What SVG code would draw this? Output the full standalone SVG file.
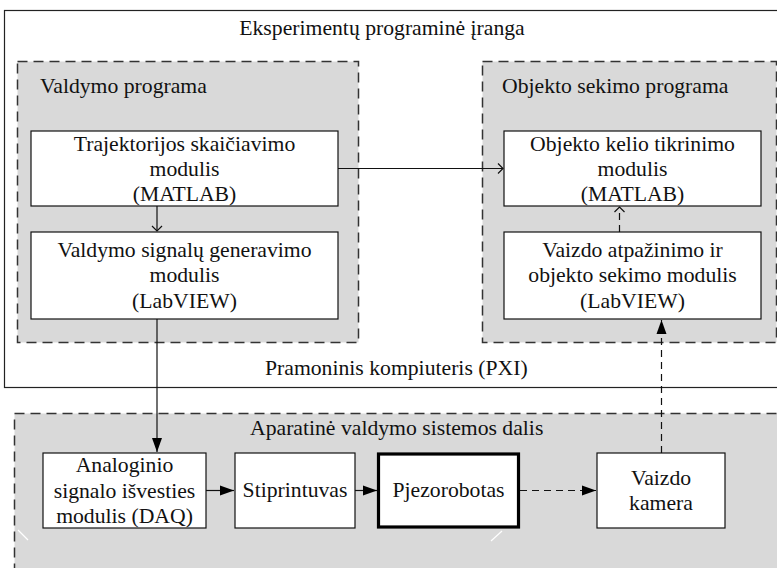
<svg xmlns="http://www.w3.org/2000/svg" width="777" height="568" viewBox="0 0 777 568">
  <defs>
    <style>
      text { font-family: 'Liberation Serif', 'Times New Roman', 'DejaVu Serif', serif; font-size: 21.7px; fill: #111; }
      .mid { text-anchor: middle; }
      .frame { fill: #fff; stroke: #222; stroke-width: 1.2; }
      .group { fill: #d9d9d9; stroke: #333; stroke-width: 1.5; stroke-dasharray: 10 6; }
      .box { fill: #fff; stroke: #111; stroke-width: 1.2; }
      .heavy { fill: #fff; stroke: #000; stroke-width: 3.2; }
      .link { fill: none; stroke: #111; stroke-width: 1.2; }
      .dash { stroke-dasharray: 7 5; }
    </style>
    <marker id="open" markerWidth="8" markerHeight="12" refX="6" refY="6" orient="auto" markerUnits="userSpaceOnUse">
      <path d="M1,1 L6,6 L1,11" fill="none" stroke="#111" stroke-width="1.2"/>
    </marker>
    <marker id="solid" markerWidth="15" markerHeight="11" refX="14" refY="5.5" orient="auto" markerUnits="userSpaceOnUse">
      <path d="M0,0.5 L14,5.5 L0,10.5 Z" fill="#000"/>
    </marker>
  </defs>

  <!-- outer frame: industrial computer -->
  <g id="pxi">
    <rect class="frame" x="4.5" y="10.5" width="800" height="377"/>
    <text class="mid" x="382" y="35">Eksperimentų programinė įranga</text>
    <text x="265" y="375">Pramoninis kompiuteris (PXI)</text>
  </g>

  <!-- control program group -->
  <g id="valdymo-programa">
    <rect class="group" x="17.5" y="61.5" width="341" height="281"/>
    <text x="40" y="93">Valdymo programa</text>
  </g>

  <!-- object tracking program group -->
  <g id="sekimo-programa">
    <rect class="group" x="482.5" y="61.5" width="294" height="281"/>
    <text x="502" y="93">Objekto sekimo programa</text>
  </g>

  <!-- hardware group -->
  <g id="aparatine-dalis">
    <rect class="group" x="14.5" y="413.5" width="800" height="200"/>
    <text x="250" y="435">Aparatinė valdymo sistemos dalis</text>
    <line x1="18" y1="530" x2="28" y2="540" stroke="#fff" stroke-width="1.2"/>
    <line x1="502" y1="531" x2="491" y2="541" stroke="#fff" stroke-width="1.2"/>
  </g>

  <g id="trajektorija">
    <rect class="box" x="31" y="131" width="307" height="75"/>
    <text class="mid" x="184.5" y="151">Trajektorijos skaičiavimo</text>
    <text class="mid" x="184.5" y="176">modulis</text>
    <text class="mid" x="184.5" y="201">(MATLAB)</text>
  </g>

  <g id="signalu-generavimas">
    <rect class="box" x="31" y="232" width="307" height="87"/>
    <text class="mid" x="184.5" y="257">Valdymo signalų generavimo</text>
    <text class="mid" x="184.5" y="282">modulis</text>
    <text class="mid" x="184.5" y="308">(LabVIEW)</text>
  </g>

  <g id="kelio-tikrinimas">
    <rect class="box" x="504" y="131" width="257" height="75"/>
    <text class="mid" x="632.5" y="151">Objekto kelio tikrinimo</text>
    <text class="mid" x="632.5" y="176">modulis</text>
    <text class="mid" x="632.5" y="201">(MATLAB)</text>
  </g>

  <g id="vaizdo-atpazinimas">
    <rect class="box" x="504" y="232" width="257" height="87"/>
    <text class="mid" x="632.5" y="257">Vaizdo atpažinimo ir</text>
    <text class="mid" x="632.5" y="282">objekto sekimo modulis</text>
    <text class="mid" x="632.5" y="308">(LabVIEW)</text>
  </g>

  <g id="daq">
    <rect class="box" x="43" y="453" width="163" height="75"/>
    <text class="mid" x="124.5" y="472">Analoginio</text>
    <text class="mid" x="124.5" y="498">signalo išvesties</text>
    <text class="mid" x="124.5" y="523">modulis (DAQ)</text>
  </g>

  <g id="stiprintuvas">
    <rect class="box" x="235" y="453" width="120" height="75"/>
    <text class="mid" x="295" y="497">Stiprintuvas</text>
  </g>

  <g id="pjezorobotas">
    <rect class="heavy" x="378.5" y="454" width="140" height="73"/>
    <text class="mid" x="448.5" y="497">Pjezorobotas</text>
  </g>

  <g id="kamera">
    <rect class="box" x="597" y="453" width="128" height="75"/>
    <text class="mid" x="661" y="485">Vaizdo</text>
    <text class="mid" x="661" y="510">kamera</text>
  </g>

  <!-- connectors -->
  <g id="connectors">
    <line class="link" x1="157" y1="206" x2="157" y2="231" marker-end="url(#open)"/>
    <line class="link" x1="338" y1="168.5" x2="503" y2="168.5" marker-end="url(#open)"/>
    <line class="link dash" x1="619.5" y1="232" x2="619.5" y2="207" marker-end="url(#open)"/>
    <line class="link" x1="157" y1="319" x2="157" y2="452" marker-end="url(#solid)"/>
    <line class="link" x1="206" y1="490.5" x2="234" y2="490.5" marker-end="url(#solid)"/>
    <line class="link" x1="355" y1="490.5" x2="377" y2="490.5" marker-end="url(#solid)"/>
    <line class="link dash" x1="520" y1="490.5" x2="596" y2="490.5" marker-end="url(#solid)"/>
    <line class="link dash" x1="661.5" y1="453" x2="661.5" y2="320" marker-end="url(#solid)"/>
  </g>
</svg>
